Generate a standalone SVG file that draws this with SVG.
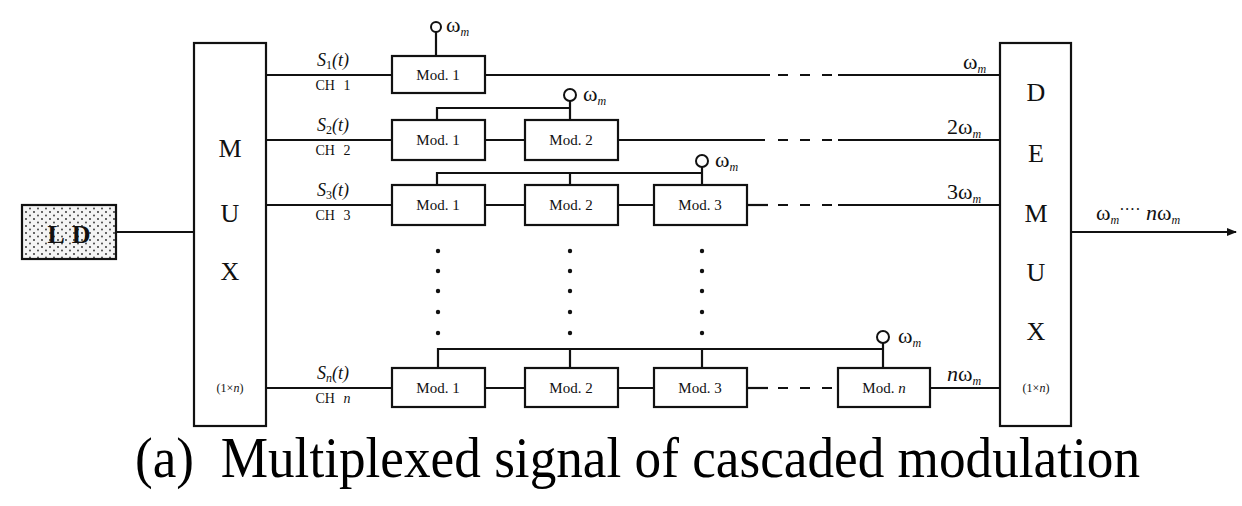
<svg xmlns="http://www.w3.org/2000/svg" width="1242" height="506" viewBox="0 0 1242 506">
<defs>
<pattern id="stip" width="8" height="7" patternUnits="userSpaceOnUse">
<rect width="8" height="7" fill="#f4f4f4"/>
<circle cx="2" cy="2" r="0.9" fill="#222"/>
<circle cx="6" cy="5.5" r="0.9" fill="#333"/>
</pattern>
<marker id="arr" markerWidth="10" markerHeight="8" refX="9" refY="4" orient="auto" markerUnits="userSpaceOnUse">
<path d="M0,0 L10,4 L0,8 Z" fill="#111"/>
</marker>
<style>
.box{fill:#fff;stroke:#111;stroke-width:2.2}
.ln{fill:none;stroke:#111;stroke-width:2.2}
.dash{fill:none;stroke:#111;stroke-width:2.2;stroke-dasharray:10 12}
.osc{fill:#fff;stroke:#111;stroke-width:2}
.dot{fill:#111}
.big{font-family:"Liberation Serif","Times New Roman",serif;font-size:26px;fill:#111;text-anchor:middle}
.mod{font-family:"Liberation Serif","Times New Roman",serif;font-size:15px;fill:#111;text-anchor:middle}
.sig{font-family:"Liberation Serif","Times New Roman",serif;font-size:18px;font-style:italic;fill:#111;text-anchor:middle}
.ch{font-family:"Liberation Serif","Times New Roman",serif;font-size:14px;fill:#111;text-anchor:middle;word-spacing:5px}
.om{font-family:"Liberation Serif","Times New Roman",serif;font-size:22px;fill:#111}
.sub{font-size:12px;font-style:italic}
.small{font-family:"Liberation Serif","Times New Roman",serif;font-size:12px;fill:#111;text-anchor:middle}
.cap{font-family:"Liberation Serif","Times New Roman",serif;font-size:56px;fill:#000}
</style>
</defs>

<g id="connectors">
<line class="ln" x1="116" y1="232" x2="194" y2="232"/>
<line class="ln" x1="266" y1="75" x2="392" y2="75"/>
<line class="ln" x1="266" y1="140" x2="392" y2="140"/>
<line class="ln" x1="266" y1="205" x2="392" y2="205"/>
<line class="ln" x1="266" y1="388" x2="392" y2="388"/>
<line class="ln" x1="485" y1="75" x2="770" y2="75"/>
<line class="dash" x1="778" y1="75" x2="838" y2="75"/>
<line class="ln" x1="838" y1="75" x2="1000" y2="75"/>
<line class="ln" x1="436" y1="32" x2="436" y2="56"/>
<line class="ln" x1="485" y1="140" x2="525" y2="140"/>
<line class="ln" x1="618" y1="140" x2="765" y2="140"/>
<line class="dash" x1="778" y1="140" x2="838" y2="140"/>
<line class="ln" x1="838" y1="140" x2="1000" y2="140"/>
<polyline class="ln" points="437,120 437,108 570,108"/>
<line class="ln" x1="570" y1="101" x2="570" y2="120"/>
<line class="ln" x1="485" y1="205" x2="525" y2="205"/>
<line class="ln" x1="618" y1="205" x2="654" y2="205"/>
<line class="ln" x1="747" y1="205" x2="768" y2="205"/>
<line class="dash" x1="778" y1="205" x2="838" y2="205"/>
<line class="ln" x1="838" y1="205" x2="1000" y2="205"/>
<polyline class="ln" points="437,185 437,173 702,173"/>
<line class="ln" x1="570" y1="173" x2="570" y2="185"/>
<line class="ln" x1="702" y1="167" x2="702" y2="185"/>
<line class="ln" x1="485" y1="388" x2="525" y2="388"/>
<line class="ln" x1="618" y1="388" x2="654" y2="388"/>
<line class="ln" x1="747" y1="388" x2="768" y2="388"/>
<line class="dash" x1="778" y1="388" x2="838" y2="388"/>
<line class="ln" x1="930" y1="388" x2="1000" y2="388"/>
<polyline class="ln" points="438,368 438,349 883,349"/>
<line class="ln" x1="570" y1="349" x2="570" y2="368"/>
<line class="ln" x1="702" y1="349" x2="702" y2="368"/>
<line class="ln" x1="883" y1="343" x2="883" y2="368"/>
<line class="ln" x1="1071" y1="232" x2="1236" y2="232" marker-end="url(#arr)"/>
<g class="dot">
<circle cx="438" cy="251" r="2.2"/><circle cx="438" cy="271" r="2.2"/><circle cx="438" cy="291" r="2.2"/><circle cx="438" cy="312" r="2.2"/><circle cx="438" cy="333" r="2.2"/>
<circle cx="570" cy="251" r="2.2"/><circle cx="570" cy="271" r="2.2"/><circle cx="570" cy="291" r="2.2"/><circle cx="570" cy="312" r="2.2"/><circle cx="570" cy="333" r="2.2"/>
<circle cx="702" cy="251" r="2.2"/><circle cx="702" cy="271" r="2.2"/><circle cx="702" cy="291" r="2.2"/><circle cx="702" cy="312" r="2.2"/><circle cx="702" cy="333" r="2.2"/>
</g>
</g>

<g id="ld">
<rect x="22" y="205" width="94" height="54" fill="url(#stip)" stroke="#111" stroke-width="2.2"/>
<text x="69" y="243" class="big" font-weight="bold" font-size="28" word-spacing="2">L D</text>
</g>

<g id="mux">
<rect class="box" x="194" y="43" width="72" height="383"/>
<text x="230" y="157" class="big">M</text>
<text x="230" y="222" class="big">U</text>
<text x="230" y="280" class="big">X</text>
<text x="230" y="392" class="small">(1×<tspan font-style="italic">n</tspan>)</text>
</g>

<g id="demux">
<rect class="box" x="1000" y="43" width="71" height="383"/>
<text x="1036" y="101" class="big">D</text>
<text x="1036" y="162" class="big">E</text>
<text x="1036" y="222" class="big">M</text>
<text x="1036" y="281" class="big">U</text>
<text x="1036" y="340" class="big">X</text>
<text x="1036" y="392" class="small">(1×<tspan font-style="italic">n</tspan>)</text>
</g>

<g id="labels-left">
<text x="333" y="66" class="sig">S<tspan font-size="12" font-style="normal" dy="3">1</tspan><tspan dy="-3">(t)</tspan></text>
<text x="333" y="90" class="ch">CH 1</text>
<text x="333" y="131" class="sig">S<tspan font-size="12" font-style="normal" dy="3">2</tspan><tspan dy="-3">(t)</tspan></text>
<text x="333" y="155" class="ch">CH 2</text>
<text x="333" y="196" class="sig">S<tspan font-size="12" font-style="normal" dy="3">3</tspan><tspan dy="-3">(t)</tspan></text>
<text x="333" y="220" class="ch">CH 3</text>
<text x="333" y="379" class="sig">S<tspan font-size="12" dy="3">n</tspan><tspan dy="-3">(t)</tspan></text>
<text x="333" y="403" class="ch">CH <tspan font-style="italic">n</tspan></text>
</g>

<g id="row1">
<rect class="box" x="392" y="56" width="93" height="37"/>
<text x="438" y="80" class="mod">Mod. 1</text>
<circle class="osc" cx="436" cy="27" r="5"/>
<text x="446" y="32" class="om">ω<tspan class="sub" dy="4">m</tspan></text>
</g>

<g id="row2">
<rect class="box" x="392" y="120" width="93" height="40"/>
<text x="438" y="145" class="mod">Mod. 1</text>
<rect class="box" x="525" y="120" width="93" height="40"/>
<text x="571" y="145" class="mod">Mod. 2</text>
<circle class="osc" cx="570" cy="95" r="6"/>
<text x="583" y="101" class="om">ω<tspan class="sub" dy="4">m</tspan></text>
</g>

<g id="row3">
<rect class="box" x="392" y="185" width="93" height="40"/>
<text x="438" y="210" class="mod">Mod. 1</text>
<rect class="box" x="525" y="185" width="93" height="40"/>
<text x="571" y="210" class="mod">Mod. 2</text>
<rect class="box" x="654" y="185" width="93" height="40"/>
<text x="700" y="210" class="mod">Mod. 3</text>
<circle class="osc" cx="702" cy="161" r="6"/>
<text x="715" y="167" class="om">ω<tspan class="sub" dy="4">m</tspan></text>
</g>

<g id="rown">
<rect class="box" x="392" y="368" width="93" height="39"/>
<text x="438" y="393" class="mod">Mod. 1</text>
<rect class="box" x="525" y="368" width="93" height="39"/>
<text x="571" y="393" class="mod">Mod. 2</text>
<rect class="box" x="654" y="368" width="93" height="39"/>
<text x="700" y="393" class="mod">Mod. 3</text>
<rect class="box" x="838" y="368" width="92" height="39"/>
<text x="884" y="393" class="mod">Mod. <tspan font-style="italic">n</tspan></text>
<circle class="osc" cx="883" cy="337" r="6"/>
<text x="898" y="343" class="om">ω<tspan class="sub" dy="4">m</tspan></text>
</g>

<g id="labels-right">
<text x="963" y="69" class="om">ω<tspan class="sub" dy="4">m</tspan></text>
<text x="947" y="134" class="om">2ω<tspan class="sub" dy="4">m</tspan></text>
<text x="947" y="199" class="om">3ω<tspan class="sub" dy="4">m</tspan></text>
<text x="947" y="381" class="om"><tspan font-style="italic">n</tspan>ω<tspan class="sub" dy="4">m</tspan></text>
<text x="1096" y="220" class="om">ω<tspan class="sub" dy="4">m</tspan><tspan dy="-9" font-size="16">····</tspan><tspan dy="5"> </tspan><tspan font-style="italic">n</tspan>ω<tspan class="sub" dy="4">m</tspan></text>
</g>

<text x="135" y="477" class="cap" textLength="1005" lengthAdjust="spacingAndGlyphs" xml:space="preserve">(a)  Multiplexed signal of cascaded modulation</text>
</svg>
